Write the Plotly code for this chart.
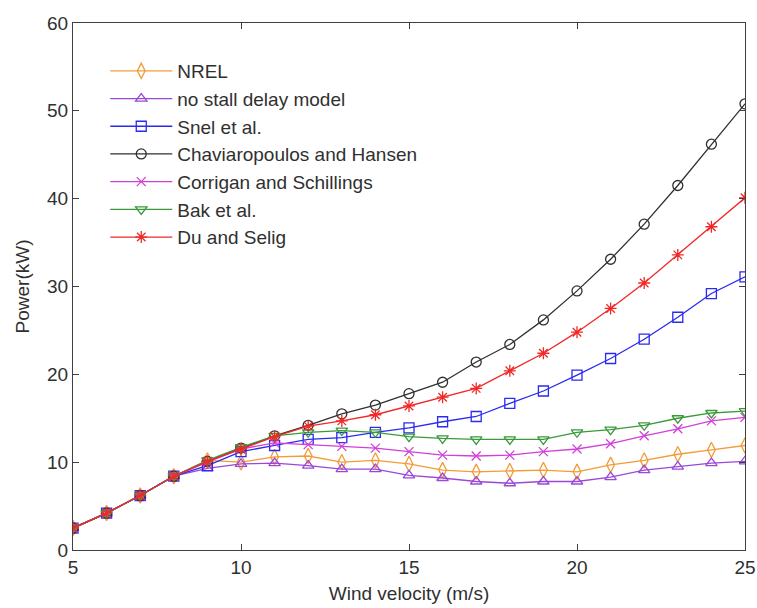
import plotly.graph_objects as go

wind = [5, 6, 7, 8, 9, 10, 11, 12, 13, 14, 15, 16, 17, 18, 19, 20, 21, 22, 23, 24, 25]

nrel = [2.5, 4.2, 6.2, 8.4, 10.2, 10.0, 10.6, 10.7, 10.0, 10.2, 9.8, 9.1, 8.9, 9.0, 9.1, 8.9, 9.7, 10.2, 10.9, 11.4, 11.9]
no_stall = [2.5, 4.2, 6.2, 8.4, 9.3, 9.8, 9.9, 9.6, 9.2, 9.2, 8.5, 8.2, 7.8, 7.6, 7.8, 7.8, 8.3, 9.1, 9.5, 9.9, 10.1]
snel = [2.5, 4.2, 6.2, 8.4, 9.6, 11.2, 11.9, 12.6, 12.8, 13.4, 13.9, 14.6, 15.2, 16.7, 18.1, 19.9, 21.8, 24.0, 26.5, 29.2, 31.1]
chav = [2.5, 4.2, 6.2, 8.4, 10.1, 11.6, 13.0, 14.2, 15.5, 16.5, 17.8, 19.1, 21.4, 23.4, 26.2, 29.5, 33.1, 37.1, 41.5, 46.2, 50.8]
corrigan = [2.5, 4.2, 6.2, 8.4, 10.0, 11.5, 12.2, 12.0, 11.8, 11.6, 11.2, 10.8, 10.7, 10.8, 11.2, 11.5, 12.1, 13.0, 13.8, 14.7, 15.1]
bak = [2.5, 4.2, 6.2, 8.4, 10.2, 11.7, 13.0, 13.4, 13.6, 13.4, 12.9, 12.7, 12.6, 12.6, 12.6, 13.4, 13.7, 14.2, 15.0, 15.6, 15.8]
du = [2.5, 4.2, 6.2, 8.4, 10.1, 11.5, 12.9, 14.1, 14.7, 15.4, 16.4, 17.4, 18.4, 20.4, 22.4, 24.8, 27.5, 30.4, 33.6, 36.8, 40.1]

series = [
    ("NREL", nrel, "#f29c38", "diamond-tall-open", 11),
    ("no stall delay model", no_stall, "#9a48d8", "triangle-up-open", 10),
    ("Snel et al.", snel, "#2a2af0", "square-open", 10),
    ("Chaviaropoulos and Hansen", chav, "#303030", "circle-open", 10),
    ("Corrigan and Schillings", corrigan, "#d040d8", "x-thin-open", 9),
    ("Bak et al.", bak, "#3a9a3a", "triangle-down-open", 10),
    ("Du and Selig", du, "#f02828", "asterisk-open", 10),
]

fig = go.Figure()
for name, vals, color, sym, size in series:
    fig.add_trace(go.Scatter(
        x=wind, y=vals, name=name, mode="lines+markers",
        line=dict(color=color, width=1.3),
        marker=dict(symbol=sym, size=size, color=color, line=dict(color=color, width=1.3)),
    ))

axis_common = dict(
    showline=True, linecolor="#404040", linewidth=1.2, mirror="ticks",
    ticks="inside", ticklen=6, tickcolor="#404040", showgrid=False, zeroline=False,
    automargin=False,
    tickfont=dict(family="Liberation Sans, Arial, sans-serif", size=19, color="#303030"),
)

fig.update_layout(
    width=757, height=608,
    margin=dict(l=73, r=12, t=23, b=58),
    paper_bgcolor="white", plot_bgcolor="white",
    font=dict(family="Liberation Sans, Arial, sans-serif", color="#303030"),
    xaxis=dict(range=[5, 25], tickvals=[5, 10, 15, 20, 25],
               title=dict(text="Wind velocity (m/s)", font=dict(size=19), standoff=9),
               **axis_common),
    yaxis=dict(range=[0, 60], tickvals=[0, 10, 20, 30, 40, 50, 60],
               title=dict(text="Power(kW)", font=dict(size=19), standoff=12),
               **axis_common),
    legend=dict(x=0.048, y=0.945, xanchor="left", yanchor="top",
                bgcolor="rgba(0,0,0,0)", borderwidth=0,
                font=dict(size=19, color="#303030"), itemwidth=62,
                tracegroupgap=0),
)

fig.write_html("out.html")
